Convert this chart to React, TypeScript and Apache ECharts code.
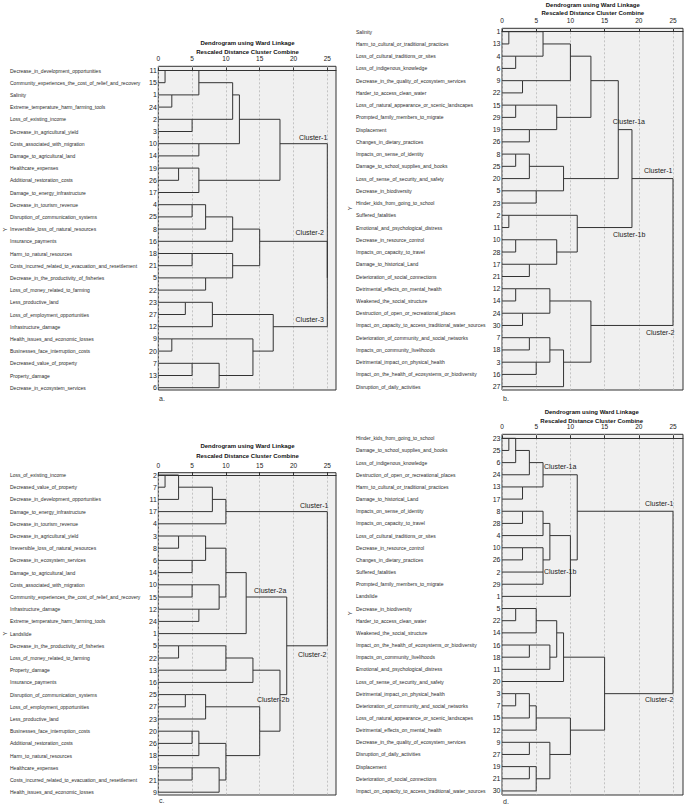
import React, { useEffect, useRef } from 'react';
import * as echarts from 'echarts';

// ---------------- Panel a ----------------
const aCases = [11, 15, 1, 24, 2, 3, 10, 14, 19, 26, 17, 4, 25, 8, 16, 18, 21, 5, 22, 23, 27, 12, 9, 20, 7, 13, 6];
const aNames = [
  'Decrease_in_development_opportunities',
  'Community_experiences_the_cost_of_relief_and_recovery',
  'Salinity',
  'Extreme_temperature_harm_farming_tools',
  'Loss_of_existing_income',
  'Decrease_in_agricultural_yield',
  'Costs_associated_with_migration',
  'Damage_to_agricultural_land',
  'Healthcare_expenses',
  'Additional_restoration_costs',
  'Damage_to_energy_infrastructure',
  'Decrease_in_tourism_revenue',
  'Disruption_of_communication_systems',
  'Irreversible_loss_of_natural_resources',
  'Insurance_payments',
  'Harm_to_natural_resources',
  'Costs_incurred_related_to_evacuation_and_resettlement',
  'Decrease_in_the_productivity_of_fisheries',
  'Loss_of_money_related_to_farming',
  'Less_productive_land',
  'Loss_of_employment_opportunities',
  'Infrastructure_damage',
  'Health_issues_and_economic_losses',
  'Businesses_face_interruption_costs',
  'Decreased_value_of_property',
  'Property_damage',
  'Decrease_in_ecosystem_services',
];
// merges: [childA, childB, rescaled distance]; leaves are 0..n-1, clusters n, n+1, ...
const aMerges = [
  [0, 1, 1], [2, 3, 2], [27, 28, 6], [4, 5, 5], [29, 30, 11], [6, 7, 6], [31, 32, 12],
  [8, 9, 3], [34, 10, 6], [33, 35, 18],
  [11, 12, 5], [37, 13, 7], [38, 14, 11], [15, 16, 5], [17, 18, 7], [40, 41, 11], [39, 42, 15],
  [19, 20, 4], [44, 21, 8], [22, 23, 2], [24, 25, 5], [47, 26, 9], [46, 48, 14], [45, 49, 17],
  [43, 50, 25], [36, 51, 25],
];
const aClusterText = ['Cluster-1', 'Cluster-2', 'Cluster-3'];
const aClusterAt = [[20.8, 5.5], [20.3, 13.3], [20.3, 20.45]];

// ---------------- Panel b ----------------
const bCases = [1, 13, 4, 6, 9, 22, 15, 29, 19, 26, 8, 25, 20, 5, 23, 2, 11, 10, 28, 17, 21, 12, 14, 24, 30, 7, 18, 3, 16, 27];
const bNames = [
  'Salinity',
  'Harm_to_cultural_or_traditional_practices',
  'Loss_of_cultural_traditions_or_sites',
  'Loss_of_indigenous_knowledge',
  'Decrease_in_the_quality_of_ecosystem_services',
  'Harder_to_access_clean_water',
  'Loss_of_natural_appearance_or_scenic_landscapes',
  'Prompted_family_members_to_migrate',
  'Displacement',
  'Changes_in_dietary_practices',
  'Impacts_on_sense_of_identity',
  'Damage_to_school_supplies_and_books',
  'Loss_of_sense_of_security_and_safety',
  'Decrease_in_biodiversity',
  'Hinder_kids_from_going_to_school',
  'Suffered_fatalities',
  'Emotional_and_psychological_distress',
  'Decrease_in_resource_control',
  'Impacts_on_capacity_to_travel',
  'Damage_to_historical_Land',
  'Deterioration_of_social_connections',
  'Detrimental_effects_on_mental_health',
  'Weakened_the_social_structure',
  'Destruction_of_open_or_recreational_places',
  'Impact_on_capacity_to_access_traditional_water_sources',
  'Deterioration_of_community_and_social_networks',
  'Impacts_on_community_livelihoods',
  'Detrimental_impact_on_physical_health',
  'Impact_on_the_health_of_ecosystems_or_biodiversity',
  'Disruption_of_daily_activities',
];
const bMerges = [
  [0, 1, 1], [2, 3, 2], [30, 31, 6], [4, 5, 3], [32, 33, 10], [6, 7, 2], [8, 9, 4], [35, 36, 8],
  [34, 37, 13], [10, 11, 2], [39, 12, 4], [13, 14, 5], [40, 41, 9], [38, 42, 17],
  [15, 16, 1], [17, 18, 2], [19, 20, 4], [45, 46, 8], [44, 47, 11], [43, 48, 19],
  [21, 22, 2], [23, 24, 3], [50, 51, 7], [25, 26, 4], [27, 28, 5], [53, 54, 7], [55, 29, 9],
  [52, 56, 13], [49, 57, 25],
];
const bClusterText = ['Cluster-1a', 'Cluster-1', 'Cluster-1b', 'Cluster-2'];
const bClusterAt = [[16.18, 7.35], [20.76, 11.36], [16.23, 16.55], [21.05, 24.59]];

// ---------------- Panel c ----------------
const cCases = [2, 7, 11, 17, 4, 3, 8, 6, 14, 10, 15, 12, 24, 1, 5, 22, 13, 16, 25, 27, 23, 20, 26, 18, 19, 21, 9];
const cNames = [
  'Loss_of_existing_income',
  'Decreased_value_of_property',
  'Decrease_in_development_opportunities',
  'Damage_to_energy_infrastructure',
  'Decrease_in_tourism_revenue',
  'Decrease_in_agricultural_yield',
  'Irreversible_loss_of_natural_resources',
  'Decrease_in_ecosystem_services',
  'Damage_to_agricultural_land',
  'Costs_associated_with_migration',
  'Community_experiences_the_cost_of_relief_and_recovery',
  'Infrastructure_damage',
  'Extreme_temperature_harm_farming_tools',
  'Landslide',
  'Decrease_in_the_productivity_of_fisheries',
  'Loss_of_money_related_to_farming',
  'Property_damage',
  'Insurance_payments',
  'Disruption_of_communication_systems',
  'Loss_of_employment_opportunities',
  'Less_productive_land',
  'Businesses_face_interruption_costs',
  'Additional_restoration_costs',
  'Harm_to_natural_resources',
  'Healthcare_expenses',
  'Costs_incurred_related_to_evacuation_and_resettlement',
  'Health_issues_and_economic_losses',
];
const cMerges = [
  [0, 1, 1], [27, 2, 3], [28, 3, 8], [29, 4, 10],
  [5, 6, 3], [7, 8, 5], [31, 32, 7], [9, 10, 5], [11, 12, 6], [34, 35, 9], [33, 36, 10], [37, 13, 13],
  [14, 15, 3], [39, 16, 10], [40, 17, 14], [18, 19, 4], [42, 20, 7], [21, 22, 5], [44, 23, 6],
  [24, 25, 5], [46, 26, 9], [45, 47, 10], [43, 48, 15], [41, 49, 18], [38, 50, 19], [30, 51, 25],
];
const cClusterText = ['Cluster-1', 'Cluster-2a', 'Cluster-2b', 'Cluster-2'];
const cClusterAt = [[20.96, 2.46], [14.16, 9.43], [14.6, 18.44], [20.67, 14.75]];

// ---------------- Panel d ----------------
const dCases = [23, 25, 6, 24, 13, 17, 8, 28, 4, 10, 26, 2, 29, 1, 5, 22, 14, 16, 18, 11, 20, 3, 7, 15, 12, 9, 27, 19, 21, 30];
const dNames = [
  'Hinder_kids_from_going_to_school',
  'Damage_to_school_supplies_and_books',
  'Loss_of_indigenous_knowledge',
  'Destruction_of_open_or_recreational_places',
  'Harm_to_cultural_or_traditional_practices',
  'Damage_to_historical_Land',
  'Impacts_on_sense_of_identity',
  'Impacts_on_capacity_to_travel',
  'Loss_of_cultural_traditions_or_sites',
  'Decrease_in_resource_control',
  'Changes_in_dietary_practices',
  'Suffered_fatalities',
  'Prompted_family_members_to_migrate',
  'Landslide',
  'Decrease_in_biodiversity',
  'Harder_to_access_clean_water',
  'Weakened_the_social_structure',
  'Impact_on_the_health_of_ecosystems_or_biodiversity',
  'Impacts_on_community_livelihoods',
  'Emotional_and_psychological_distress',
  'Loss_of_sense_of_security_and_safety',
  'Detrimental_impact_on_physical_health',
  'Deterioration_of_community_and_social_networks',
  'Loss_of_natural_appearance_or_scenic_landscapes',
  'Detrimental_effects_on_mental_health',
  'Decrease_in_the_quality_of_ecosystem_services',
  'Disruption_of_daily_activities',
  'Displacement',
  'Deterioration_of_social_connections',
  'Impact_on_capacity_to_access_traditional_water_sources',
];
const dMerges = [
  [0, 1, 1], [30, 2, 2], [31, 3, 4], [4, 5, 3], [32, 33, 6],
  [6, 7, 3], [35, 8, 6], [9, 10, 3], [11, 12, 6], [37, 38, 6], [36, 39, 7], [40, 13, 10], [34, 41, 11],
  [14, 15, 2], [43, 16, 5], [17, 18, 4], [45, 19, 7], [44, 46, 8], [47, 20, 9],
  [21, 22, 2], [49, 23, 4], [50, 24, 5], [25, 26, 4], [27, 28, 4], [53, 29, 5], [52, 54, 7], [51, 55, 10],
  [48, 56, 15], [42, 57, 25],
];
const dClusterText = ['Cluster-1a', 'Cluster-1b', 'Cluster-1', 'Cluster-2'];
const dClusterAt = [[6.14, 2.34], [6.14, 10.97], [20.9, 5.35], [20.9, 21.46]];

const axisTicks = [0, 5, 10, 15, 20, 25];
const titleLine1 = 'Dendrogram using Ward Linkage';
const titleLine2 = 'Rescaled Distance Cluster Combine';

const FONT = '"Liberation Sans", Arial, sans-serif';

type Layout = {
  x0: number; unit: number; right: number; top: number; bottom: number;
  row0: number; step: number; nameX: number; titleX: number; t1: number; t2: number;
  letter: string; letterX: number; letterY: number; yMarkX: number; yMarkY: number;
};

const panels = [
  {
    cases: aCases, names: aNames, merges: aMerges, ctext: aClusterText, cat: aClusterAt,
    lay: { x0: 158.3, unit: 6.76, right: 336, top: 66.3, bottom: 390, row0: 70.5, step: 12.2, nameX: 10, titleX: 247.5, t1: 43, t2: 52, letter: 'a.', letterX: 159, letterY: 398, yMarkX: 5, yMarkY: 229.5 } as Layout,
  },
  {
    cases: bCases, names: bNames, merges: bMerges, ctext: bClusterText, cat: bClusterAt,
    lay: { x0: 502, unit: 6.84, right: 683, top: 28.3, bottom: 390, row0: 31.7, step: 12.24, nameX: 356, titleX: 592.8, t1: 4.5, t2: 12.8, letter: 'b.', letterX: 503, letterY: 398.5, yMarkX: 350, yMarkY: 208.3 } as Layout,
  },
  {
    cases: cCases, names: cNames, merges: cMerges, ctext: cClusterText, cat: cClusterAt,
    lay: { x0: 158.3, unit: 6.76, right: 336, top: 472.7, bottom: 795, row0: 475, step: 12.2, nameX: 10, titleX: 247.5, t1: 446.3, t2: 455.7, letter: 'c.', letterX: 159, letterY: 800, yMarkX: 5, yMarkY: 633.5 } as Layout,
  },
  {
    cases: dCases, names: dNames, merges: dMerges, ctext: dClusterText, cat: dClusterAt,
    lay: { x0: 502, unit: 6.84, right: 683, top: 434.3, bottom: 795, row0: 438.3, step: 12.16, nameX: 356, titleX: 591.7, t1: 411.7, t2: 420.7, letter: 'd.', letterX: 503, letterY: 801, yMarkX: 350, yMarkY: 613.3 } as Layout,
  },
];

function buildLinks(n: number, merges: number[][]) {
  const pos: number[] = [];
  const hgt: number[] = [];
  for (let i = 0; i < n; i++) { pos[i] = i; hgt[i] = 0; }
  const links: number[][] = [];
  merges.forEach(([a, b, h], k) => {
    const id = n + k;
    links.push([hgt[a], pos[a], h, pos[b], hgt[b]]);
    pos[id] = Math.floor((pos[a] + pos[b]) / 2);
    hgt[id] = h;
  });
  return links;
}

function txt(x: number, y: number, text: string, size: number, align: string, vAlign: string, extra: any = {}) {
  return {
    type: 'text', x, y, silent: true,
    style: {
      text, fontSize: size, fontFamily: FONT, fill: extra.fill || '#222', fontWeight: extra.fontWeight || 'normal',
      align, textAlign: align, verticalAlign: vAlign, textVerticalAlign: vAlign,
    },
    ...(extra.rotation !== undefined ? { rotation: extra.rotation } : {}),
  };
}

export default function App() {
  const ref = useRef<HTMLDivElement>(null);
  useEffect(() => {
    if (!ref.current) return;
    const chart = echarts.init(ref.current, undefined, { renderer: 'svg' });
    const grid: any[] = [];
    const xAxis: any[] = [];
    const yAxis: any[] = [];
    const series: any[] = [];
    const graphic: any[] = [];

    panels.forEach((p, k) => {
      const L = p.lay;
      const n = p.cases.length;
      const lastRow = L.row0 + (n - 1) * L.step;
      grid.push({
        left: L.x0, top: L.top, width: L.right - L.x0, height: L.bottom - L.top,
        show: true, backgroundColor: '#f0f0f0', borderColor: '#333', borderWidth: 1,
      });
      xAxis.push({
        gridIndex: k, type: 'value', position: 'top', min: 0, max: (L.right - L.x0) / L.unit, interval: 5,
        axisLine: { show: true, lineStyle: { color: '#333', width: 1 } },
        axisTick: { show: true, length: 3, lineStyle: { color: '#333' }, customValues: axisTicks },
        axisLabel: {
          fontSize: 6.5, fontFamily: FONT, color: '#222', margin: 4, customValues: axisTicks,
          formatter: (v: number) => (axisTicks.indexOf(Math.round(v * 1000) / 1000) >= 0 ? String(v) : ''),
        },
        splitLine: { show: true, lineStyle: { color: '#b8b8b8', type: [2, 2], width: 0.8 } },
      });
      yAxis.push({
        gridIndex: k, type: 'value', inverse: true, show: false,
        min: -(L.row0 - L.top) / L.step, max: (n - 1) + (L.bottom - lastRow) / L.step,
        splitLine: { show: false },
      });
      const links = buildLinks(n, p.merges);
      series.push({
        type: 'custom', xAxisIndex: k, yAxisIndex: k, silent: true,
        encode: { x: [0, 2, 4], y: [1, 3] },
        data: links,
        renderItem: (params: any, api: any) => {
          const hA = api.value(0), pA = api.value(1), h = api.value(2), pB = api.value(3), hB = api.value(4);
          const pts = [api.coord([hA, pA]), api.coord([h, pA]), api.coord([h, pB]), api.coord([hB, pB])];
          return { type: 'polyline', shape: { points: pts }, style: { stroke: '#333', fill: 'none', lineWidth: 1 } };
        },
      });
      series.push({
        type: 'custom', xAxisIndex: k, yAxisIndex: k, silent: true, clip: false,
        encode: { x: 0, y: 1 },
        data: p.cases.map((_, i) => [0, i]),
        renderItem: (params: any, api: any) => {
          const i = params.dataIndex;
          const c = api.coord([0, i]);
          return {
            type: 'group',
            children: [
              txt(c[0] - 1.5, c[1], String(p.cases[i]), 7, 'right', 'middle', { fill: '#222' }),
              txt(L.nameX, c[1], p.names[i], 5, 'left', 'middle', { fill: '#2a2a2a' }),
            ],
          };
        },
      });
      series.push({
        type: 'custom', xAxisIndex: k, yAxisIndex: k, silent: true, clip: false,
        encode: { x: 0, y: 1 },
        data: p.cat,
        renderItem: (params: any, api: any) => {
          const c = api.coord([api.value(0), api.value(1)]);
          return txt(c[0], c[1], p.ctext[params.dataIndex], 7, 'left', 'middle', { fill: '#222' });
        },
      });
      graphic.push(txt(L.titleX, L.t1, titleLine1, 6, 'center', 'middle', { fontWeight: 'bold', fill: '#111' }));
      graphic.push(txt(L.titleX, L.t2, titleLine2, 6, 'center', 'middle', { fontWeight: 'bold', fill: '#111' }));
      graphic.push(txt(L.letterX, L.letterY, p.lay.letter, 7, 'left', 'middle', { fill: '#333' }));
      graphic.push(txt(L.yMarkX, L.yMarkY, 'Y', 6, 'center', 'middle', { fill: '#333', rotation: Math.PI / 2 }));
    });

    chart.setOption({
      animation: false,
      backgroundColor: '#ffffff',
      grid, xAxis, yAxis, series, graphic,
    });
    return () => chart.dispose();
  }, []);
  return <div ref={ref} style={{ position: 'fixed', left: 0, top: 0, width: 685, height: 804, background: '#fff' }} />;
}
